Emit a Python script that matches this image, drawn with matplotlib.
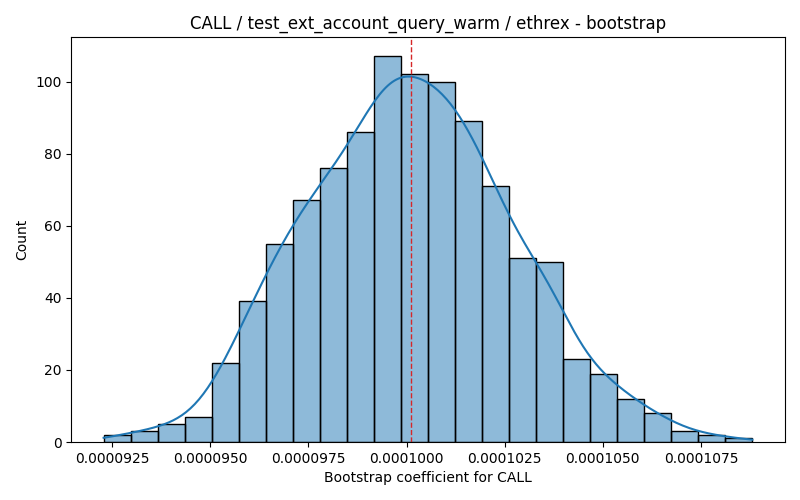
import numpy as np
import matplotlib
matplotlib.use("Agg")
import matplotlib.pyplot as plt

counts = [2, 3, 5, 7, 22, 39, 55, 67, 76, 86, 107, 102, 100, 89, 71, 51, 50, 23, 19, 12, 8, 3, 2, 1]
lo, hi = 0.00009228, 0.00010881  # range of bootstrap coefficients
point_estimate = 0.0001001

edges = np.linspace(lo, hi, len(counts) + 1)
centers = (edges[:-1] + edges[1:]) / 2
width = edges[1] - edges[0]
counts = np.array(counts, dtype=float)

fig, ax = plt.subplots(figsize=(8, 5), dpi=100)
ax.bar(edges[:-1], counts, width=width, align="edge", color="#1f77b4", alpha=0.5, edgecolor="none")
ax.bar(edges[:-1], counts, width=width, align="edge", fill=False, edgecolor="black", linewidth=1)

# kde from binned counts (weighted gaussian, scott bandwidth)
n = counts.sum()
mean = np.sum(counts * centers) / n
std = np.sqrt(np.sum(counts * (centers - mean) ** 2) / n)
bw = std * n ** (-0.2)
xs = np.linspace(lo, hi, 300)
dens = np.sum(counts[:, None] * np.exp(-0.5 * ((xs[None, :] - centers[:, None]) / bw) ** 2), axis=0) / (n * bw * np.sqrt(2 * np.pi))
ax.plot(xs, dens * n * width, color="#1f77b4", linewidth=1.5)

ax.axvline(point_estimate, color="#d62728", linestyle="--", linewidth=1)
ax.set_ylim(0, counts.max() * 1.05)
ax.set_xticks([0.0000925, 0.0000950, 0.0000975, 0.0001000, 0.0001025, 0.0001050, 0.0001075])
ax.set_xticklabels(["0.0000925", "0.0000950", "0.0000975", "0.0001000", "0.0001025", "0.0001050", "0.0001075"])
ax.set_xlabel("Bootstrap coefficient for CALL")
ax.set_ylabel("Count")
ax.set_title("CALL / test_ext_account_query_warm / ethrex - bootstrap")
fig.subplots_adjust(left=0.089, right=0.981, top=0.926, bottom=0.116)
fig.savefig("out.png")
